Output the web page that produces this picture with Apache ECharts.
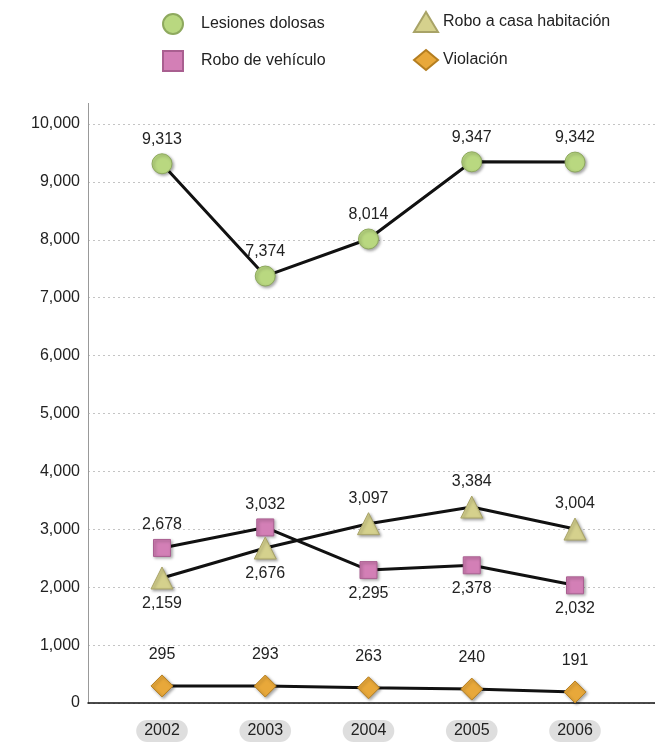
<!DOCTYPE html>
<html><head><meta charset="utf-8">
<script src="https://cdn.jsdelivr.net/npm/echarts@6/dist/echarts.min.js"></script>
<style>html,body{margin:0;padding:0;background:#fff}#c{width:655px;height:742px}</style>
</head><body><div id="c"></div>
<script>
const years = ['2002','2003','2004','2005','2006'];
const lesiones = [9313, 7374, 8014, 9347, 9342];
const vehiculo = [2678, 3032, 2295, 2378, 2032];
const casa = [2159, 2676, 3097, 3384, 3004];
const violacion = [295, 293, 263, 240, 191];
const yTicks = [0,1000,2000,3000,4000,5000,6000,7000,8000,9000,10000];

// label side per point (style, kept apart from data)
const sideVeh = ['top','top','bottom','bottom','bottom'];
const sideCasa = ['bottom','bottom','top','top','top'];

const FONT = 'Liberation Sans, Arial, sans-serif';
const fmt = v => v.toLocaleString('en-US');

function pts(vals, sides) {
  return vals.map((v, i) => {
    const d = { value: [Number(years[i]), v] };
    if (sides) d.label = { position: sides[i] };
    return d;
  });
}
const shadow = { shadowBlur: 3, shadowColor: 'rgba(0,0,0,0.35)', shadowOffsetX: 1.5, shadowOffsetY: 1.5 };
function mk(name, vals, sides, symbol, size, color, border, dist) {
  return {
    name, type: 'line', data: pts(vals, sides), symbol, symbolSize: size,
    lineStyle: { color: '#111', width: 3 },
    itemStyle: Object.assign({ color, borderColor: border, borderWidth: 1 }, shadow),
    label: { show: true, position: 'top', distance: dist, color: '#222', fontSize: 16, fontFamily: FONT,
             formatter: p => fmt(p.value[1]) },
    emphasis: { disabled: true }, z: 3
  };
}

const chart = echarts.init(document.getElementById('c'));
const pxPerYear = 103.25;
chart.setOption({
  animation: false,
  backgroundColor: '#fff',
  textStyle: { fontFamily: FONT },
  grid: { left: 88, right: 0, top: 124, bottom: 38 },
  legend: [
    { data: [{ name: 'Lesiones dolosas', icon: 'circle' }, { name: 'Robo de vehículo', icon: 'rect' }],
      orient: 'vertical', left: 157, top: 8,
      itemWidth: 20, itemHeight: 20, itemGap: 15,
      textStyle: { fontSize: 16, color: '#222', fontFamily: FONT, padding: [0,0,0,13] } },
    { data: [{ name: 'Robo a casa habitación', icon: 'triangle' }, { name: 'Violación', icon: 'diamond' }],
      orient: 'vertical', left: 408, top: 6,
      itemWidth: 24, itemHeight: 20, itemGap: 16,
      textStyle: { fontSize: 16, color: '#222', fontFamily: FONT, padding: [0,0,0,0] } }
  ],
  xAxis: {
    type: 'value',
    min: 2002 - 74 / pxPerYear, max: 2006 + 80 / pxPerYear,
    splitLine: { show: false },
    axisTick: { show: false },
    axisLine: { show: true, lineStyle: { color: '#111', width: 1.5 } },
    axisLabel: {
      customValues: years.map(Number),
      formatter: v => String(Math.round(v)),
      fontSize: 16, color: '#222', fontFamily: FONT, margin: 17,
      backgroundColor: '#dedede', borderRadius: 12, padding: [3, 8, 3, 8]
    }
  },
  yAxis: {
    type: 'value', min: 0, max: 10000, interval: 1000,
    axisLine: { show: true, lineStyle: { color: '#999', width: 1 } },
    axisTick: { show: false },
    axisLabel: { formatter: v => fmt(v), fontSize: 16, color: '#222', fontFamily: FONT, margin: 8 },
    splitLine: { show: true, lineStyle: { color: '#c4c4c4', type: [2, 3], width: 1 } }
  },
  graphic: [
    { type: 'line', shape: { x1: 88.5, y1: 103, x2: 88.5, y2: 124 }, style: { stroke: '#999', lineWidth: 1 } }
  ],
  series: [
    mk('Lesiones dolosas', lesiones, null, 'circle', 20, '#b9d880', '#8ea95e', 6),
    mk('Robo de vehículo', vehiculo, sideVeh, 'rect', 17, '#d37fb6', '#a95f90', 6),
    mk('Robo a casa habitación', casa, sideCasa, 'triangle', 22, '#d5d18d', '#a8a367', 6),
    mk('Violación', violacion, null, 'diamond', 22, '#e8a83a', '#b47e20', 12)
  ]
});
</script>
</body></html>
